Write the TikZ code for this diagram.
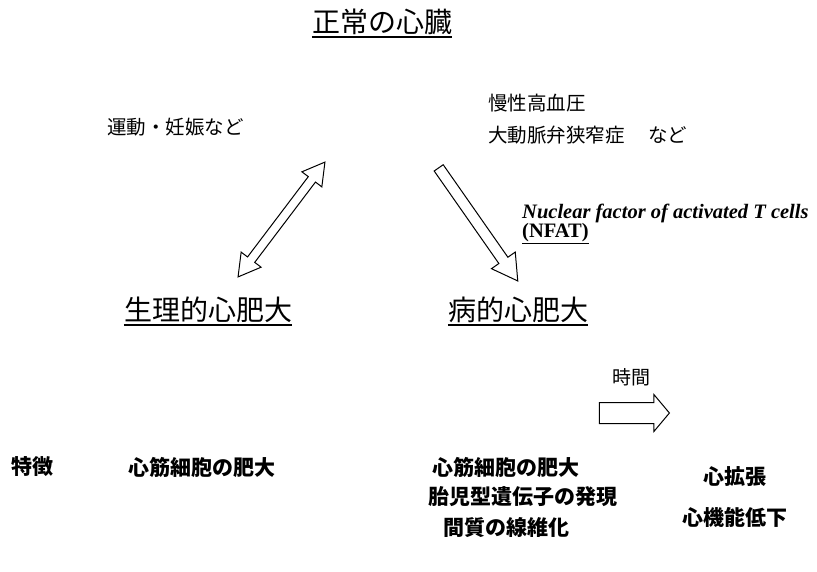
\documentclass[tikz,border=0pt]{standalone}
\usepackage{fontspec}
\setmainfont{Liberation Serif}
\newfontfamily\jp{Noto Sans CJK JP}
\usetikzlibrary{shapes.arrows}

\begin{document}
\begin{tikzpicture}[x=1pt,y=-1pt,
  every node/.style={inner sep=0pt},
  heading/.style={font=\jp\fontsize{28}{30}\selectfont},
  cause/.style={anchor=west, font=\jp\fontsize{19.5}{21}\selectfont},
  feature/.style={font=\jp\bfseries\fontsize{21}{23}\selectfont},
  uline/.style={line width=1.5pt},
  hollow/.style={draw, line width=1pt, fill=white, sloped, inner xsep=0pt}]
\useasboundingbox (0,0) rectangle (817,571);

        % headings
        \node[heading] (normal) at (382,22) {正常の心臓};
        \node[heading] (physio) at (208,310) {生理的心肥大};
        \node[heading] (patho) at (518,310) {病的心肥大};
        \draw[uline] ([yshift=-2pt]normal.south west) -- ([yshift=-2pt]normal.south east);
        \draw[uline] ([yshift=-2pt]physio.south west) -- ([yshift=-2pt]physio.south east);
        \draw[uline] ([yshift=-2pt]patho.south west) -- ([yshift=-2pt]patho.south east);

        % causes
        \node[cause] (exercise) at (107,127) {運動・妊娠など};
        \node[cause] (hypert) at (488,103) {慢性高血圧};
        \node[cause] (stenosis) at (488,135) {大動脈弁狭窄症\hspace{1.2em}など};
        \node[anchor=west, font=\bfseries\itshape\fontsize{20.5}{22}\selectfont] (nfat) at (522,213) {Nuclear factor of activated T cells};
        \node[anchor=west, font=\bfseries\fontsize{20.5}{22}\selectfont] (nfatabbr) at (522,234) {\underline{(NFAT)}};

        % arrows
        \coordinate (dbl-bot) at (238,277);
        \coordinate (dbl-top) at (325,162);
        \coordinate (sgl-tail) at (436,164);
        \coordinate (sgl-tip) at (515,277);
        \coordinate (time-tail) at (595,413);
        \coordinate (time-tip) at (665,413);
        \path (dbl-bot) -- (dbl-top) node[midway, hollow, double arrow, minimum height=144pt, inner ysep=4pt, double arrow head extend=8pt, double arrow tip angle=60] {};
        \path (sgl-tail) -- (sgl-tip) node[midway, hollow, single arrow, minimum height=138pt, inner ysep=5pt, single arrow head extend=9pt, single arrow tip angle=60] {};
        \path (time-tail) -- (time-tip) node[midway, hollow, single arrow, minimum height=70pt, inner ysep=10pt, single arrow head extend=8pt, single arrow tip angle=100] {};
        \node[font=\jp\fontsize{19}{21}\selectfont] (time) at (631,377) {時間};

        % features
        \node[feature] (label) at (33,467) {特徴};
        \node[feature, anchor=west] (physio-f) at (128,467) {心筋細胞の肥大};
        \node[feature, anchor=west] (patho-f1) at (432,467) {心筋細胞の肥大};
        \node[feature, anchor=west] (patho-f2) at (428,497) {胎児型遺伝子の発現};
        \node[feature, anchor=west] (patho-f3) at (443,528) {間質の線維化};
        \node[feature] (late-f1) at (735,477) {心拡張};
        \node[feature] (late-f2) at (735,517) {心機能低下};
\end{tikzpicture}
\end{document}
